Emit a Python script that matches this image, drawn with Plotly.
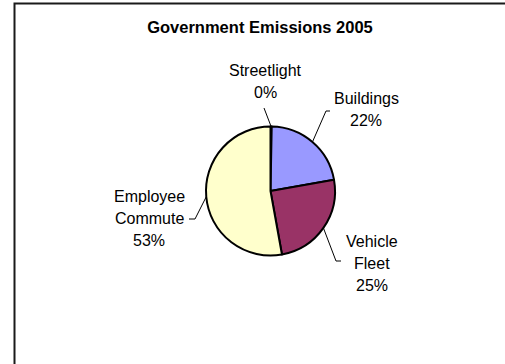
import math
import plotly.graph_objects as go

# Government emissions by sector, 2005
categories = ["Streetlight", "Buildings", "Vehicle Fleet", "Employee Commute"]
emissions = [0.3, 22.0, 25.0, 53.0]
slice_colors = ["#CCFFFF", "#9999FF", "#993366", "#FFFFCC"]

W, H = 505, 364
CX, CY, R = 270.5, 191.0, 64.5   # pie centre and radius, px from top-left
LINE_GAP = 22                    # px between label lines
FONT = "Liberation Sans, Arial, sans-serif"

# how each category label is broken into lines
label_lines = {
    "Streetlight": ["Streetlight"],
    "Buildings": ["Buildings"],
    "Vehicle Fleet": ["Vehicle", "Fleet"],
    "Employee Commute": ["Employee", "Commute"],
}
# label block placement: centre x, first line y, leader elbow, tail end x
label_layout = {
    "Streetlight": dict(x=265, y=70, elbow=(264, 108), tail=None),
    "Buildings": dict(x=366, y=99, elbow=(326, 111), tail=330),
    "Vehicle Fleet": dict(x=372, y=241, elbow=(336, 261), tail=341),
    "Employee Commute": dict(x=149, y=196, elbow=(195, 219), tail=189),
}


def px(x, y):
    return x / W, 1 - y / H


fig = go.Figure()
fig.add_trace(go.Pie(
    labels=categories,
    values=emissions,
    sort=False,
    direction="clockwise",
    rotation=0,
    textinfo="none",
    hoverinfo="skip",
    marker=dict(colors=slice_colors, line=dict(color="black", width=2)),
    domain=dict(x=[(CX - R) / W, (CX + R) / W],
                y=[1 - (CY + R) / H, 1 - (CY - R) / H]),
    showlegend=False,
))

total = sum(emissions)
shapes = []
annotations = []
cum = 0.0
for cat, val in zip(categories, emissions):
    mid = (cum + val / 2) / total * 2 * math.pi
    cum += val
    pct = f"{round(val / total * 100)}%"
    lay = label_layout[cat]
    lines = label_lines[cat] + [pct]
    for i, t in enumerate(lines):
        ax, ay = px(lay["x"], lay["y"] + i * LINE_GAP)
        annotations.append(dict(
            x=ax, y=ay, xref="paper", yref="paper", text=t, showarrow=False,
            xanchor="center", yanchor="middle",
            font=dict(family=FONT, size=16, color="black"),
        ))
    # leader line from the slice edge at its mid-angle
    sx, sy = CX + R * math.sin(mid), CY - R * math.cos(mid)
    ex, ey = lay["elbow"]
    pts = [(sx, sy), (ex, ey)]
    if lay["tail"] is not None:
        pts.append((lay["tail"], ey))
    for (x0, y0), (x1, y1) in zip(pts[:-1], pts[1:]):
        p0, p1 = px(x0, y0), px(x1, y1)
        shapes.append(dict(type="line", xref="paper", yref="paper",
                           x0=p0[0], y0=p0[1], x1=p1[0], y1=p1[1],
                           line=dict(color="black", width=1)))

# chart area frame
f0, f1 = px(14.5, 3.5), px(W + 10, H + 10)
shapes.append(dict(type="rect", xref="paper", yref="paper",
                   x0=f0[0], y0=f1[1], x1=f1[0], y1=f0[1],
                   line=dict(color="#1a1a1a", width=2), fillcolor="rgba(0,0,0,0)"))

tx, ty = px(260, 27)
fig.update_layout(
    width=W, height=H,
    margin=dict(l=0, r=0, t=0, b=0),
    paper_bgcolor="white",
    plot_bgcolor="white",
    title=dict(text="<b>Government Emissions 2005</b>", x=tx, y=ty,
               xanchor="center", yanchor="middle",
               font=dict(family=FONT, size=16.5, color="black")),
    shapes=shapes,
    annotations=annotations,
)

fig.write_html("out.html")
